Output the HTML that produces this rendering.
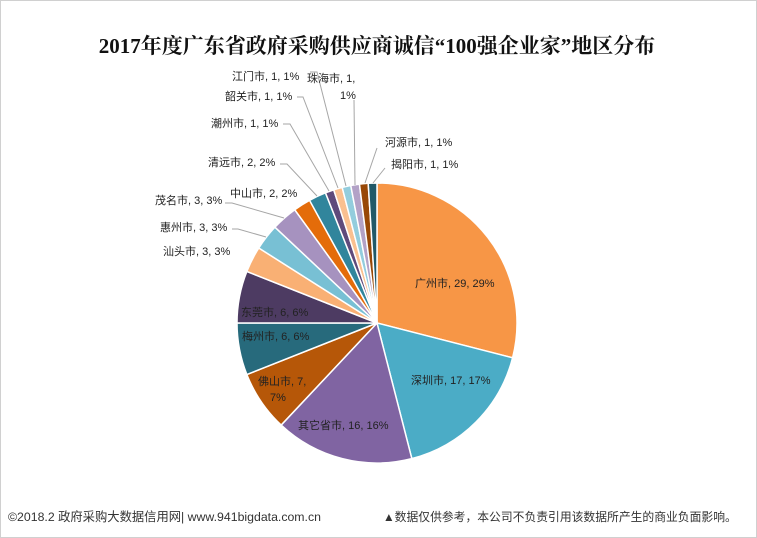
<!DOCTYPE html>
<html><head><meta charset="utf-8"><style>
html,body{margin:0;padding:0;background:#fff}
svg{display:block}
text{font-family:"Liberation Sans","Noto Sans CJK SC",sans-serif;font-size:11px;fill:#222}
</style></head><body>
<svg id="s" width="757" height="538" viewBox="0 0 757 538" xmlns="http://www.w3.org/2000/svg">
<rect x="0.5" y="0.5" width="756" height="537" fill="#fff" stroke="#d0d0d0"/>
<text x="377" y="53" text-anchor="middle" style="font-family:'Liberation Serif','Noto Serif CJK SC',serif;font-size:21px;font-weight:bold;fill:#111">2017年度广东省政府采购供应商诚信“100强企业家”地区分布</text>
<g id="pie"></g>
<g stroke="#a6a6a6" fill="none" stroke-width="1">
<polyline points="385,168 373,183"/>
<polyline points="377,148 365,183"/>
<polyline points="354,100 355,185"/>
<polyline points="310,72 317,72 346,186"/>
<polyline points="297,97 303,97 338,188"/>
<polyline points="283,124 290,124 329,191"/>
<polyline points="280,164 287,164 317,196"/>
<polyline points="225,203 232,203 284,218"/>
<polyline points="232,229 238,229 266,237"/>
</g>
<g>
<text x="232" y="80">江门市, 1, 1%</text>
<text x="307" y="82">珠海市, 1,</text>
<text x="340" y="99">1%</text>
<text x="225" y="100">韶关市, 1, 1%</text>
<text x="211" y="127">潮州市, 1, 1%</text>
<text x="208" y="166">清远市, 2, 2%</text>
<text x="230" y="197">中山市, 2, 2%</text>
<text x="155" y="204">茂名市, 3, 3%</text>
<text x="160" y="231">惠州市, 3, 3%</text>
<text x="163" y="255">汕头市, 3, 3%</text>
<text x="385" y="146">河源市, 1, 1%</text>
<text x="391" y="168">揭阳市, 1, 1%</text>
<text x="415" y="287">广州市, 29, 29%</text>
<text x="411" y="384">深圳市, 17, 17%</text>
<text x="298" y="429">其它省市, 16, 16%</text>
<text x="258" y="385">佛山市, 7,</text>
<text x="270" y="401">7%</text>
<text x="242" y="340">梅州市, 6, 6%</text>
<text x="241" y="316">东莞市, 6, 6%</text>
</g>
<text x="8" y="521" style="font-size:12.3px;fill:#333">©2018.2 政府采购大数据信用网| www.941bigdata.com.cn</text>
<text x="383" y="521" style="font-size:11.8px;fill:#333">▲数据仅供参考，本公司不负责引用该数据所产生的商业负面影响。</text>
</svg>
<script>
var d=[[29,"#F79646"],[17,"#4BACC6"],[16,"#8064A2"],[7,"#B65708"],[6,"#276A7C"],[6,"#4D3B62"],[3,"#F9B074"],[3,"#78C0D4"],[3,"#A692BF"],[2,"#E46C0A"],[2,"#31859C"],[1,"#5F4A7B"],[1,"#FAC090"],[1,"#93CDDD"],[1,"#B3A2C7"],[1,"#984807"],[1,"#215968"]];
var cx=377,cy=323,r=140,c=0,g=document.getElementById("pie"),h="";
function pt(p){var a=p*3.6*Math.PI/180;return [cx+r*Math.sin(a),cy-r*Math.cos(a)];}
d.forEach(function(e){var a=pt(c),b=pt(c+e[0]);var l=e[0]>50?1:0;
h+='<path d="M'+cx+','+cy+' L'+a[0]+','+a[1]+' A'+r+','+r+' 0 '+l+' 1 '+b[0]+','+b[1]+' Z" fill="'+e[1]+'" stroke="#fff" stroke-width="1.5"/>';c+=e[0];});
g.innerHTML=h;
</script>
</body></html>
